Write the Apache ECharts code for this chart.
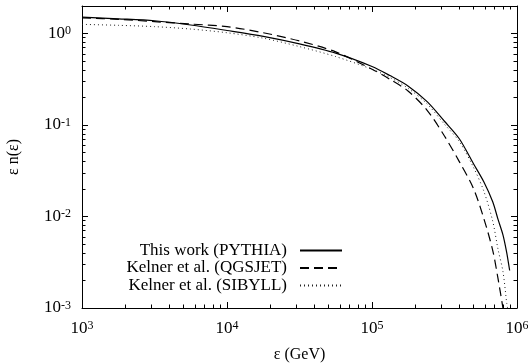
<!DOCTYPE html>
<html>
<head>
<meta charset="utf-8">
<script src="https://cdn.jsdelivr.net/npm/echarts@6/dist/echarts.min.js"></script>
<style>
  html, body { margin: 0; padding: 0; background: #fff; }
  #chart { width: 528px; height: 364px; }
</style>
</head>
<body>
<div id="chart"></div>
<script>
// energy grid (GeV)
const energy = [1000, 1780, 3160, 5620, 10000, 17800, 31600, 56200, 100000, 133000,
  178000, 240000, 316000, 400000, 500000, 590000, 680000, 740000, 800000, 850000, 890000];

// this work (PYTHIA)
const pythia = [1.51, 1.45, 1.38, 1.24, 1.08, 0.93, 0.77, 0.61, 0.436, 0.347,
  0.266, 0.180, 0.110, 0.0708, 0.038, 0.024, 0.0145, 0.0093, 0.0063, 0.0040, 0.00257];

// Kelner et al. (QGSJET), hits the floor earlier
const qgsjet = [1.48, 1.43, 1.35, 1.27, 1.19, 1.02, 0.83, 0.63, 0.407, 0.316,
  0.234, 0.145, 0.0759, 0.0398, 0.0204, 0.00955, 0.00427, 0.00209, 0.001];

// Kelner et al. (SIBYLL)
const sibyll = [1.26, 1.23, 1.19, 1.12, 1.02, 0.89, 0.72, 0.56, 0.407, 0.331,
  0.251, 0.170, 0.102, 0.066, 0.0347, 0.019, 0.0089, 0.00437, 0.00251, 0.00112];
const sibyllEnd = [861000, 0.001];

const seriesNames = ['This work (PYTHIA)', 'Kelner et al. (QGSJET)', 'Kelner et al. (SIBYLL)'];

// tick values
const xMajor = [1e3, 1e4, 1e5, 1e6];
const yMajor = [1e-3, 1e-2, 1e-1, 1e0];
const decadeMinor = (lo, hi) => {
  const out = [];
  for (let p = lo; p < hi; p++) {
    for (let m = 2; m <= 9; m++) out.push(m * Math.pow(10, p));
  }
  return out;
};
const xMinor = decadeMinor(3, 6);
const yMinor = decadeMinor(-3, 0).concat([2]);

const FONT = 'Liberation Serif';

const pairs = (xs, ys) => ys.map((y, i) => [xs[i], y]);

const powLabel = (v) => {
  const e = Math.log10(v);
  const r = Math.round(e);
  if (Math.abs(e - r) > 1e-6) return '';
  return '{b|10}{s|' + r + '}';
};

const labelRich = {
  b: { fontFamily: FONT, fontSize: 17, color: '#000', lineHeight: 17, verticalAlign: 'bottom' },
  s: { fontFamily: FONT, fontSize: 12, color: '#000', lineHeight: 12, verticalAlign: 'top', padding: [0, 0, 10, 0] }
};

const axisLineStyle = { show: true, lineStyle: { color: '#000', width: 1 } };

const makeX = (pos, minor, withLabel) => ({
  type: 'log', logBase: 10, min: 1e3, max: 1e6, position: pos,
  axisLine: minor ? { show: false } : axisLineStyle,
  axisTick: {
    show: true, inside: true, length: minor ? 3.5 : 6,
    customValues: minor ? xMinor : xMajor,
    lineStyle: { color: '#000', width: 1 }
  },
  axisLabel: withLabel ? {
    show: true, margin: 12, formatter: powLabel, rich: labelRich, customValues: xMajor
  } : { show: false },
  splitLine: { show: false },
  name: withLabel ? 'ε (GeV)' : '',
  nameLocation: 'middle', nameGap: 38,
  nameTextStyle: { fontFamily: FONT, fontSize: 16, color: '#000' }
});

const makeY = (pos, minor, withLabel) => ({
  type: 'log', logBase: 10, min: 1e-3, max: 2, position: pos,
  axisLine: minor ? { show: false } : axisLineStyle,
  axisTick: {
    show: true, inside: true, length: minor ? 3.5 : 6,
    customValues: minor ? yMinor : yMajor,
    lineStyle: { color: '#000', width: 1 }
  },
  axisLabel: withLabel ? {
    show: true, margin: 11, formatter: powLabel, rich: labelRich, customValues: yMajor
  } : { show: false },
  splitLine: { show: false },
  name: withLabel ? 'ε n(ε)' : '',
  nameLocation: 'middle', nameGap: 60, nameRotate: 90,
  nameTextStyle: { fontFamily: FONT, fontSize: 16, color: '#000' }
});

const legendAt = (name, top) => ({
  data: [name],
  orient: 'vertical', align: 'right',
  right: 180, top: top,
  itemWidth: 42, itemHeight: 10,
  selectedMode: false,
  itemStyle: { opacity: 0 },
  textStyle: { fontFamily: FONT, fontSize: 17, color: '#000', padding: [0, 8, 0, 0] }
});

const chart = echarts.init(document.getElementById('chart'), null, { renderer: 'canvas' });

chart.setOption({
  animation: false,
  backgroundColor: '#fff',
  grid: { left: 82, right: 11, top: 6, bottom: 56, containLabel: false, outerBoundsMode: 'none' },
  legend: [
    legendAt(seriesNames[0], 237),
    legendAt(seriesNames[1], 254.5),
    legendAt(seriesNames[2], 272)
  ],
  xAxis: [makeX('bottom', false, true), makeX('bottom', true, false), makeX('top', false, false), makeX('top', true, false)],
  yAxis: [makeY('left', false, true), makeY('left', true, false), makeY('right', false, false), makeY('right', true, false)],
  series: [
    {
      name: seriesNames[0], type: 'line', xAxisIndex: 0, yAxisIndex: 0,
      data: pairs(energy, pythia), symbol: 'none', smooth: 0.3,
      lineStyle: { color: '#000', width: 1.2, type: 'solid' }, itemStyle: { color: '#000' }
    },
    {
      name: seriesNames[1], type: 'line', xAxisIndex: 0, yAxisIndex: 0,
      data: pairs(energy, qgsjet), symbol: 'none', smooth: 0.3,
      lineStyle: { color: '#000', width: 1.2, type: [9, 5] }, itemStyle: { color: '#000' }
    },
    {
      name: seriesNames[2], type: 'line', xAxisIndex: 0, yAxisIndex: 0,
      data: pairs(energy, sibyll).concat([sibyllEnd]), symbol: 'none', smooth: 0.3,
      lineStyle: { color: '#222', width: 1, type: [1, 3] }, itemStyle: { color: '#222' }
    }
  ]
});
</script>
</body>
</html>
